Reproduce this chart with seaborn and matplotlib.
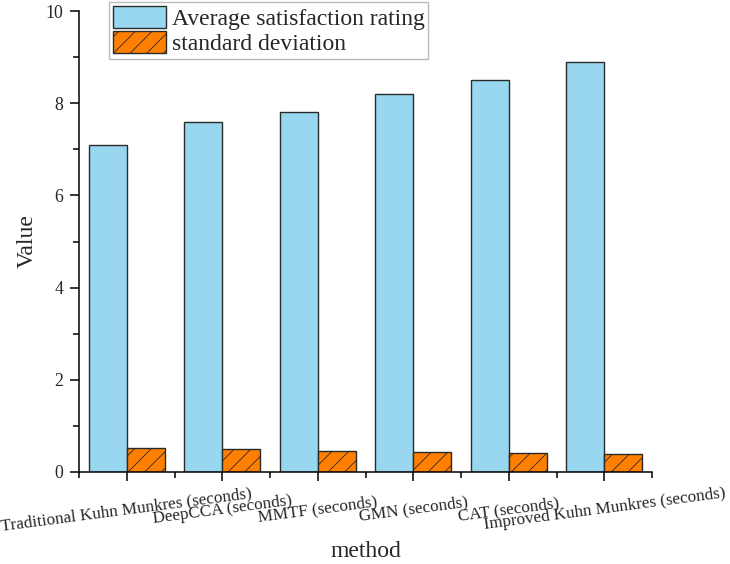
import matplotlib
matplotlib.use("Agg")
import matplotlib.pyplot as plt
from matplotlib.patches import Patch
from matplotlib.ticker import MultipleLocator, FixedLocator
import seaborn as sns
import pandas as pd

methods = ["Traditional Kuhn Munkres (seconds)", "DeepCCA (seconds)", "MMTF (seconds)",
           "GMN (seconds)", "CAT (seconds)", "Improved Kuhn Munkres (seconds)"]
avg_rating = [7.1, 7.6, 7.8, 8.2, 8.5, 8.9]
std_dev = [0.53, 0.49, 0.45, 0.44, 0.42, 0.38]
series_names = ["Average satisfaction rating", "standard deviation"]
colors = ["#99D7F0", "#FF8000"]
hatches = ["", "//"]

df = pd.DataFrame({
    "method": methods * 2,
    "Value": avg_rating + std_dev,
    "series": [series_names[0]] * len(methods) + [series_names[1]] * len(methods),
})

sns.set_theme(style="ticks")
plt.rcParams["font.family"] = ["Liberation Serif", "DejaVu Serif"]
plt.rcParams["hatch.linewidth"] = 0.6
plt.rcParams["hatch.color"] = "#5a2a00"

fig = plt.figure(figsize=(7.3, 5.64), dpi=100)
ax = fig.add_axes([79 / 730, 1 - 472 / 564, (652 - 79) / 730, (472 - 11) / 564])

sns.barplot(data=df, x="method", y="Value", hue="series", hue_order=series_names,
            palette=colors, width=0.8, dodge=True, ax=ax, legend=False,
            edgecolor="#2a2a2a", linewidth=1.0, saturation=1)

for cont, h in zip(ax.containers, hatches):
    for p in cont:
        p.set_hatch(h)

ax.set_ylim(0, 10)
ax.set_xlim(-0.5, len(methods) - 0.5)
ax.yaxis.set_major_locator(MultipleLocator(2))
ax.yaxis.set_minor_locator(MultipleLocator(1))
ax.xaxis.set_minor_locator(FixedLocator([i - 0.5 for i in range(len(methods) + 1)]))

ax.set_xticks(range(len(methods)))
ax.set_xticklabels(methods, rotation=7.5, ha="center", va="center",
                   rotation_mode="anchor", fontsize=12.3)

for side in ["top", "right"]:
    ax.spines[side].set_visible(False)
for side in ["left", "bottom"]:
    ax.spines[side].set_linewidth(1.1)
    ax.spines[side].set_color("black")

ax.tick_params(axis="both", which="major", direction="out", length=6.5, width=1.1,
               color="black")
ax.tick_params(axis="both", which="minor", direction="out", length=4.2, width=1.1,
               color="black")
ax.tick_params(axis="y", which="major", labelsize=12.8, pad=5)
ax.tick_params(axis="x", which="major", pad=20.5)

ax.set_ylabel("Value", fontsize=17)
ax.set_xlabel("method", fontsize=17)
ax.yaxis.set_label_coords((38 - 79) / 573, 0.5)
ax.xaxis.set_label_coords(0.5, (472 - 541) / 461)

handles = [Patch(facecolor=c, edgecolor="#2a2a2a", hatch=h, linewidth=1.0)
           for c, h in zip(colors, hatches)]
leg = ax.legend(handles, series_names, loc="upper left",
                bbox_to_anchor=(109 / 730, 1 - 2 / 564), bbox_transform=fig.transFigure,
                borderaxespad=0, fontsize=17, frameon=True, fancybox=False,
                handlelength=2.25, handleheight=1.08, handletextpad=0.25,
                labelspacing=0.05, borderpad=0.15)
leg.get_frame().set_edgecolor("#aaaaaa")
leg.get_frame().set_linewidth(1.0)

fig.savefig("out.png", dpi=100)
